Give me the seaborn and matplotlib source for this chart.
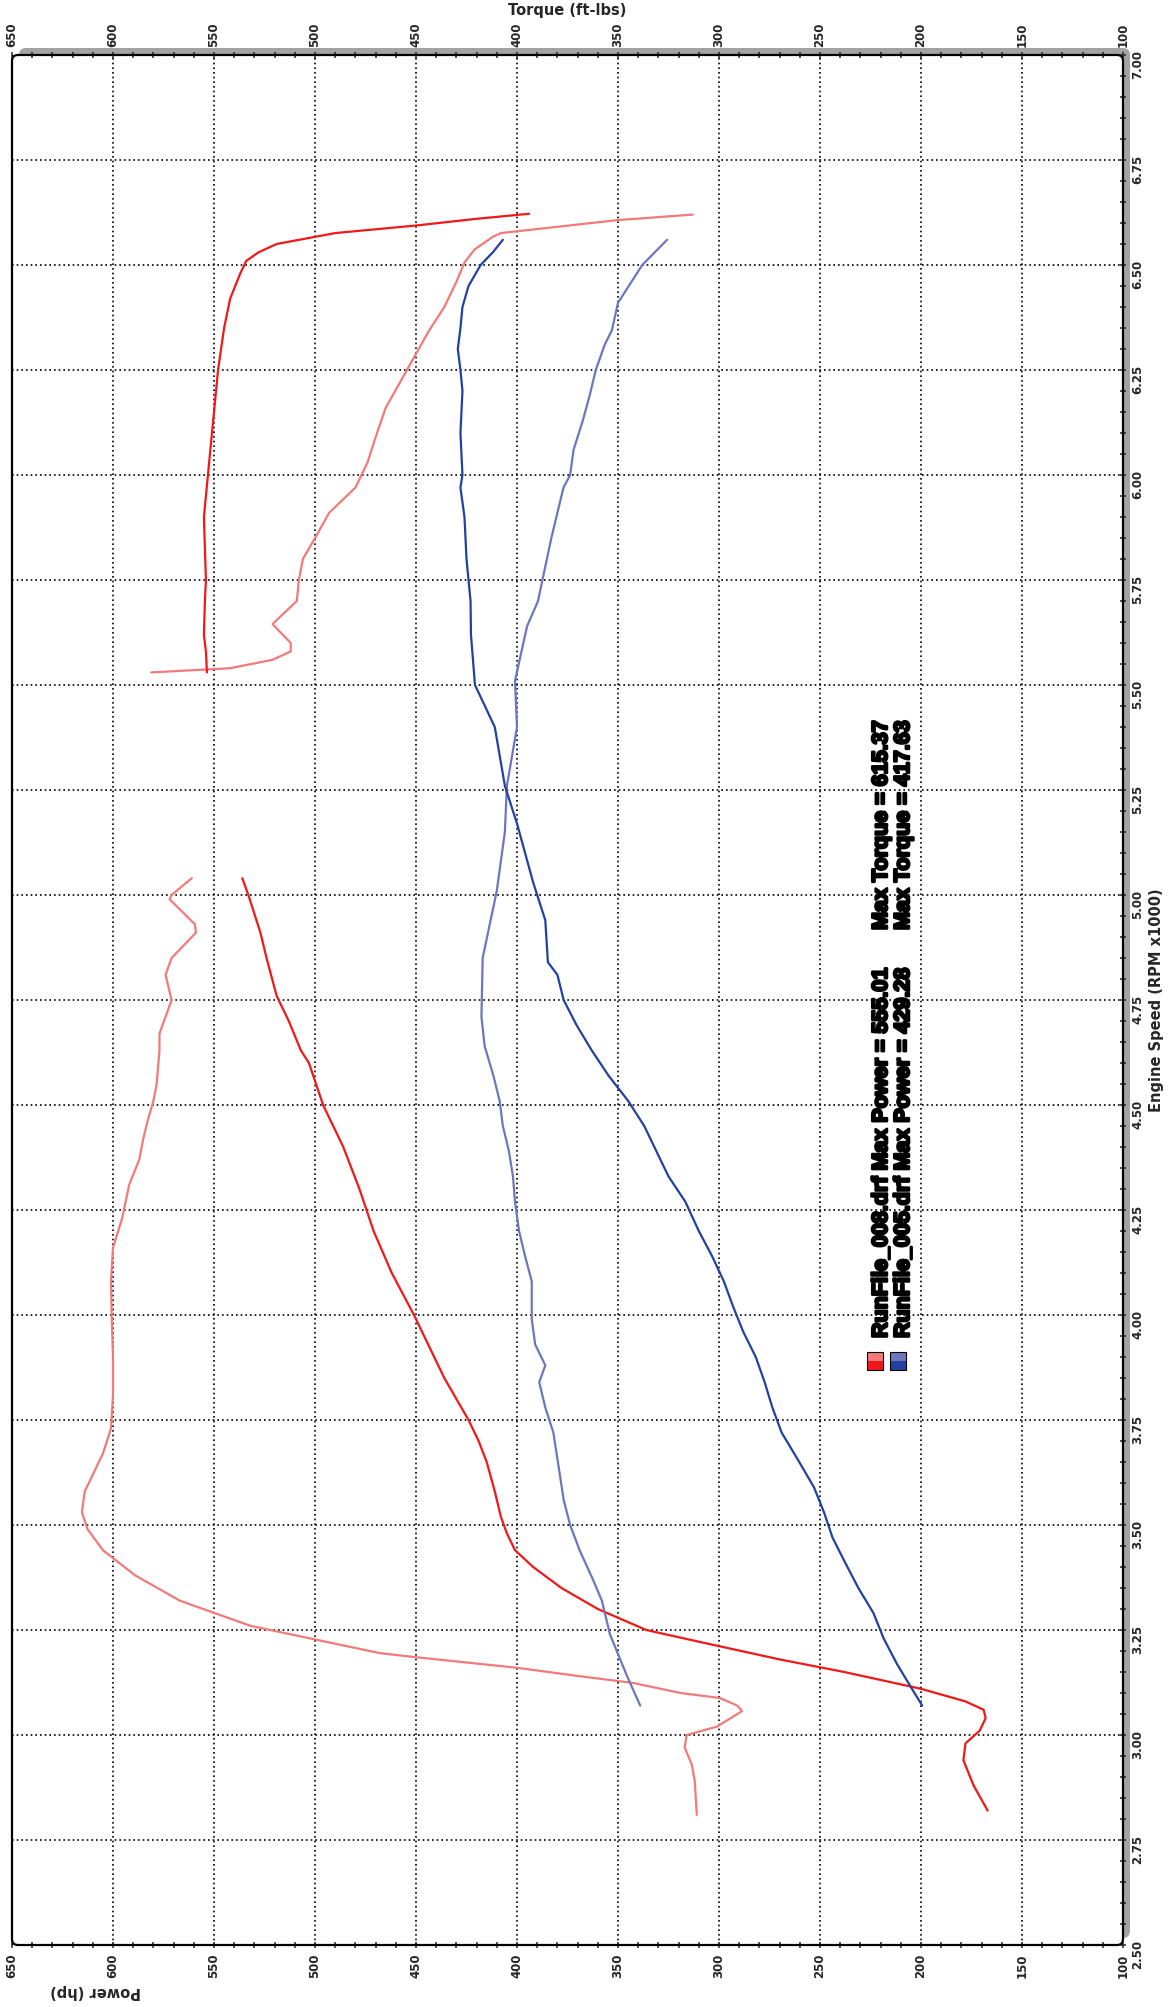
import numpy as np
import pandas as pd
import matplotlib
matplotlib.use("Agg")
import matplotlib.pyplot as plt
import matplotlib.patheffects as pe
import seaborn as sns
from matplotlib.patches import FancyBboxPatch, Rectangle
from matplotlib.ticker import MultipleLocator, FormatStrFormatter
from matplotlib.transforms import IdentityTransform

# RunFile_008 (red) - power, first pull
rpm_pow008_a = [2.82, 2.88, 2.94, 2.98, 3.01, 3.04, 3.06, 3.08, 3.11, 3.15, 3.18, 3.22, 3.25, 3.30,
                3.35, 3.40, 3.44, 3.48, 3.52, 3.58, 3.65, 3.70, 3.75, 3.80, 3.85, 3.90, 4.00, 4.10,
                4.20, 4.30, 4.40, 4.50, 4.60, 4.63, 4.70, 4.76, 4.85, 4.91, 5.00, 5.04]
pow008_a = [167, 174, 179, 178, 171, 168, 169, 178, 200, 238, 270, 308, 336, 360,
            378, 392, 401, 405, 408, 411, 415, 419, 424, 430, 436, 441, 451, 462,
            471, 478, 486, 496, 503, 507, 513, 519, 524, 527, 533, 536]

# RunFile_008 (red) - torque, first pull
rpm_tq008_a = [2.81, 2.89, 2.93, 2.97, 3.00, 3.02, 3.057, 3.07, 3.088, 3.10, 3.124, 3.14, 3.16, 3.186,
               3.195, 3.26, 3.32, 3.38, 3.44, 3.49, 3.53, 3.58, 3.62, 3.67, 3.73, 3.81, 3.90, 3.99,
               4.08, 4.16, 4.23, 4.31, 4.37, 4.42, 4.46, 4.51, 4.55, 4.63, 4.67, 4.75, 4.81, 4.85,
               4.91, 4.93, 4.99, 5.00, 5.04]
tq008_a = [311, 312, 313.5, 317, 316, 301, 288.6, 291, 299.5, 319, 342.6, 369, 400, 451.5,
           468, 532, 567, 589, 605, 612.6, 615.4, 614, 610, 605, 601, 600, 600, 600.6,
           601, 600, 595.5, 592, 587, 585, 583, 580, 578.4, 577, 577, 571, 574, 571,
           559, 559.4, 572, 571, 561]

# RunFile_008 (red) - second pull
rpm_pow008_b = [5.53, 5.58, 5.62, 5.70, 5.75, 5.90, 6.00, 6.10, 6.25, 6.35, 6.42, 6.48, 6.51,
                6.53, 6.55, 6.576, 6.594, 6.61, 6.622]
pow008_b = [553.5, 554, 555, 554.5, 554, 555, 553, 551, 548, 545, 542, 537, 534,
            528, 519, 490, 450, 420, 394]

rpm_tq008_b = [5.53, 5.537, 5.54, 5.56, 5.58, 5.60, 5.645, 5.65, 5.70, 5.75, 5.80, 5.85, 5.91,
               5.97, 6.03, 6.09, 6.16, 6.22, 6.28, 6.34, 6.40, 6.46, 6.506, 6.537, 6.567, 6.576,
               6.607, 6.62]
tq008_b = [581, 553.5, 542, 521, 512, 512, 521, 520, 509, 508, 506, 500, 493,
           480, 474, 470, 465, 458, 451, 444, 436, 430, 426, 421, 412, 408,
           350, 313]

# RunFile_005 (blue)
rpm_pow005 = [3.07, 3.11, 3.17, 3.23, 3.29, 3.35, 3.41, 3.47, 3.53, 3.59, 3.66, 3.72, 3.78, 3.84,
              3.90, 3.96, 4.02, 4.08, 4.14, 4.20, 4.27, 4.33, 4.39, 4.45, 4.51, 4.57, 4.63, 4.69,
              4.75, 4.81, 4.84, 4.94, 5.03, 5.17, 5.26, 5.40, 5.50, 5.62, 5.70, 5.80, 5.90, 5.97,
              6.00, 6.10, 6.20, 6.25, 6.30, 6.35, 6.40, 6.45, 6.50, 6.53, 6.56]
pow005 = [199.4, 204.5, 212, 218.5, 223.5, 231, 237.5, 243.8, 248, 253, 261.5, 269, 273.6, 277.4,
          281.8, 288, 293, 297.6, 303.4, 310, 316.7, 325, 331, 337, 345, 354.7, 363, 370.5,
          376.9, 380, 384.7, 386, 392, 400, 406, 411, 420.8, 422.8, 423, 425, 426, 428,
          427, 428, 427, 428, 429.3, 428, 427, 424, 418, 412, 407]

rpm_tq005 = [3.07, 3.14, 3.24, 3.32, 3.37, 3.44, 3.50, 3.56, 3.62, 3.72, 3.78, 3.84, 3.88, 3.93,
             3.99, 4.08, 4.14, 4.20, 4.27, 4.33, 4.39, 4.45, 4.51, 4.57, 4.64, 4.71, 4.85, 5.01,
             5.15, 5.26, 5.40, 5.51, 5.64, 5.70, 5.85, 5.91, 5.97, 6.00, 6.06, 6.13, 6.19, 6.25,
             6.31, 6.345, 6.41, 6.50, 6.56]
tq005 = [339, 345.5, 354, 358, 362.4, 369, 373.7, 376.9, 378.8, 382, 386, 389, 386, 391,
         392.7, 392.7, 396, 399, 401, 402, 404, 407, 408.6, 411.7, 416, 417.6, 417, 410,
         406, 405, 400, 401, 395, 389.6, 383, 380, 377, 373.7, 372, 367.4, 364, 361,
         356.6, 353, 350, 338, 325.7]

legend_lines = ["RunFile_008.drf Max Power = 555.01", "RunFile_005.drf Max Power = 429.28"]
legend_torque = ["Max Torque = 615.37", "Max Torque = 417.63"]

red_dark, red_light = "#f01818", "#f27a7a"
blue_dark, blue_light = "#2242a0", "#6e76be"

sns.set_style("white")
plt.rcParams["font.family"] = ["DejaVu Sans"]
plt.rcParams["font.weight"] = "bold"

fig = plt.figure(figsize=(11.76, 20.07), dpi=100)
W, H = 1176, 2007
x0, x1, ytop, ybot = 12, 1123, 55, 1945
ax = fig.add_axes([x0 / W, (H - ybot) / H, (x1 - x0) / W, (ybot - ytop) / H])
ax.set_facecolor("white")

curves = [
    (rpm_tq008_a, tq008_a, red_light),
    (rpm_tq008_b, tq008_b, red_light),
    (rpm_pow008_a, pow008_a, red_dark),
    (rpm_pow008_b, pow008_b, red_dark),
    (rpm_tq005, tq005, blue_light),
    (rpm_pow005, pow005, blue_dark),
]
for rpm, val, col in curves:
    df = pd.DataFrame({"rpm": rpm, "val": val})
    sns.lineplot(data=df, x="val", y="rpm", sort=False, estimator=None,
                 color=col, lw=1.6, ax=ax, legend=False, zorder=3)

ax.set_xlim(650, 100)
ax.set_ylim(2.5, 7.0)
ax.set_xlabel("")
ax.set_ylabel("")
ax.xaxis.set_major_locator(MultipleLocator(50))
ax.xaxis.set_minor_locator(MultipleLocator(10))
ax.yaxis.set_major_locator(MultipleLocator(0.25))
ax.yaxis.set_minor_locator(MultipleLocator(0.05))
ax.yaxis.set_major_formatter(FormatStrFormatter("%.2f"))
ax.yaxis.tick_right()
ax.tick_params(axis="x", which="both", top=True, bottom=True, labeltop=True, labelbottom=True,
               direction="inout", length=5, width=1.1, labelsize=8.5, labelrotation=90, pad=3.5)
ax.tick_params(axis="y", which="both", left=False, right=True, labelleft=False, labelright=True,
               direction="inout", length=5, width=1.1, labelsize=8.5, labelrotation=90, pad=3.5)
ax.grid(which="major", color="black", linestyle=(0, (1, 1.8)), lw=1.2)
for s in ax.spines.values():
    s.set_visible(False)

# drop shadow and rounded frame
shadow = FancyBboxPatch((x0 + 7, H - ybot + 7), x1 - x0, ybot - ytop,
                        boxstyle="round,pad=0,rounding_size=7", transform=IdentityTransform(),
                        facecolor="#a3a3a3", edgecolor="none", zorder=-1)
fig.add_artist(shadow)
frame = FancyBboxPatch((x0, H - ybot), x1 - x0, ybot - ytop,
                       boxstyle="round,pad=0,rounding_size=6", transform=IdentityTransform(),
                       facecolor="none", edgecolor="black", lw=1.6, zorder=10)
fig.add_artist(frame)

# legend block
def fx(px):
    return (px - x0) / (x1 - x0)

def fy(py):
    return (ybot - py) / (ybot - ytop)

stroke = [pe.withStroke(linewidth=1.8, foreground="black")]
for i, (pcol, pcol_l) in enumerate([(red_dark, red_light), (blue_dark, blue_light)]):
    px = 867 + i * 23
    ax.add_patch(Rectangle((fx(px), fy(1370)), fx(px + 16) - fx(px), (fy(1361) - fy(1370)),
                           transform=ax.transAxes, facecolor=pcol, edgecolor="none", zorder=6))
    ax.add_patch(Rectangle((fx(px), fy(1361)), fx(px + 16) - fx(px), (fy(1352) - fy(1361)),
                           transform=ax.transAxes, facecolor=pcol_l, edgecolor="none", zorder=6))
    ax.add_patch(Rectangle((fx(px), fy(1370)), fx(px + 16) - fx(px), (fy(1352) - fy(1370)),
                           transform=ax.transAxes, facecolor="none", edgecolor="black", lw=0.8, zorder=7))
    tx = 881.5 + i * 22
    ax.text(fx(tx), fy(1338), legend_lines[i], transform=ax.transAxes, rotation=90,
            ha="center", va="bottom", fontsize=15.5, fontweight="bold", color="black",
            family=["Liberation Sans", "DejaVu Sans"], path_effects=stroke, zorder=8)
    ax.text(fx(tx), fy(930), legend_torque[i], transform=ax.transAxes, rotation=90,
            ha="center", va="bottom", fontsize=15.5, fontweight="bold", color="black",
            family=["Liberation Sans", "DejaVu Sans"], path_effects=stroke, zorder=8)

# axis titles
fig.text(567 / W, 1 - 10 / H, "Torque (ft-lbs)", ha="center", va="center",
         fontsize=10.5, fontweight="bold")
fig.text(1157 / W, 1 - 1000 / H, "Engine Speed (RPM x1000)", ha="center", va="center",
         rotation=90, fontsize=10.5, fontweight="bold")
fig.text(96 / W, 1 - 1991 / H, "Power (hp)", ha="center", va="center",
         rotation=180, fontsize=10.5, fontweight="bold")

fig.savefig("out.png", dpi=100, facecolor="white")
